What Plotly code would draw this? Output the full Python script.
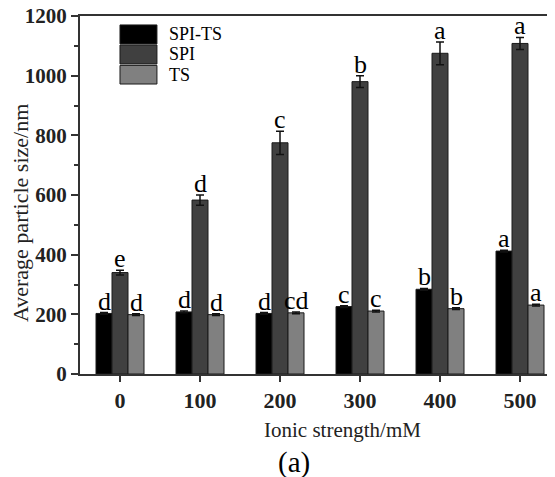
import plotly.graph_objects as go

categories = ["0", "100", "200", "300", "400", "500"]
spi_ts = [203, 208, 203, 226, 284, 412]
spi_ts_err = [3, 3, 3, 3, 3, 3]
spi = [340, 583, 775, 980, 1075, 1108]
spi_err = [8, 17, 39, 20, 38, 20]
ts = [199, 199, 205, 211, 219, 231]
ts_err = [3, 3, 3, 3, 3, 3]
letters_spi_ts = ["d", "d", "d", "c", "b", "a"]
letters_spi = ["e", "d", "c", "b", "a", "a"]
letters_ts = ["d", "d", "cd", "c", "b", "a"]

series = [
    ("SPI-TS", spi_ts, spi_ts_err, letters_spi_ts, "#000000", -0.2),
    ("SPI", spi, spi_err, letters_spi, "#404040", 0.0),
    ("TS", ts, ts_err, letters_ts, "#808080", 0.2),
]

SERIF = "Liberation Serif"
xs = list(range(len(categories)))

fig = go.Figure()
annotations = []
for name, vals, errs, letters, color, off in series:
    fig.add_trace(go.Bar(
        x=xs, y=vals, name=name,
        marker=dict(color=color, line=dict(color="#1a1a1a", width=1)),
        error_y=dict(type="data", array=errs, visible=True, color="#111111",
                     thickness=1.5, width=4),
        showlegend=False,
    ))
    for i, (v, e, t) in enumerate(zip(vals, errs, letters)):
        annotations.append(dict(
            x=i + off, y=v + e, xref="x", yref="y", text=t, showarrow=False,
            yanchor="bottom", xanchor="center", yshift=-5,
            font=dict(family=SERIF, size=26, color="#000000"),
        ))

# custom legend
legend_rows = [("SPI-TS", "#000000", 0.922, 0.975),
               ("SPI", "#404040", 0.866, 0.919),
               ("TS", "#808080", 0.810, 0.862)]
shapes = []
for name, color, y0, y1 in legend_rows:
    shapes.append(dict(type="rect", xref="paper", yref="paper",
                       x0=0.0842, x1=0.162, y0=y0, y1=y1,
                       fillcolor=color, line=dict(color="#1a1a1a", width=1)))
    annotations.append(dict(x=0.183, y=(y0 + y1) / 2, xref="paper", yref="paper",
                            text=name, showarrow=False, xanchor="left", yanchor="middle",
                            font=dict(family=SERIF, size=18, color="#000000")))

annotations.append(dict(x=(342 - 80) / 475, y=-(430 - 374) / 358, xref="paper", yref="paper",
                        text="Ionic strength/mM", showarrow=False, xanchor="center",
                        yanchor="middle", font=dict(family=SERIF, size=21, color="#222222")))
annotations.append(dict(x=(294 - 80) / 475, y=-(462 - 374) / 358, xref="paper", yref="paper",
                        text="(a)", showarrow=False, xanchor="center",
                        yanchor="middle", font=dict(family=SERIF, size=29, color="#000000")))
annotations.append(dict(x=-(80 - 20) / 475, y=(374 - 213) / 358, xref="paper", yref="paper",
                        text="Average particle size/nm", showarrow=False, textangle=-90,
                        xanchor="center", yanchor="middle",
                        font=dict(family=SERIF, size=22, color="#222222")))

# page body has an 8px margin: the figure is sized so that it ends at the window edge
fig.update_layout(
    width=547, height=469,
    margin=dict(l=72, r=0, t=8, b=103, autoexpand=False),
    paper_bgcolor="white", plot_bgcolor="white",
    barmode="group", bargap=0.4, bargroupgap=0,
    shapes=shapes, annotations=annotations,
    font=dict(family=SERIF, color="#000000"),
)
fig.update_xaxes(
    range=[-0.5, 5.4375], tickmode="array", tickvals=xs, ticktext=categories,
    showline=True, linecolor="#333333", linewidth=1.5, mirror=True,
    ticks="outside", ticklen=6, tickcolor="#333333", tickwidth=1.5,
    tickfont=dict(family=SERIF, size=22, color="#222222", weight="bold"),
    showgrid=False, zeroline=False, automargin=False,
)
fig.update_yaxes(
    range=[0, 1200], tickmode="linear", dtick=200, tick0=0,
    showline=True, linecolor="#333333", linewidth=2,
    ticks="outside", ticklen=7, tickcolor="#333333", tickwidth=1.5,
    minor=dict(dtick=100, ticklen=4, ticks="outside", tickcolor="#333333", showgrid=False),
    tickfont=dict(family=SERIF, size=21, color="#222222", weight="bold"),
    ticklabeloverflow="allow",
    showgrid=False, zeroline=False, automargin=False,
)

fig.write_html("out.html")
